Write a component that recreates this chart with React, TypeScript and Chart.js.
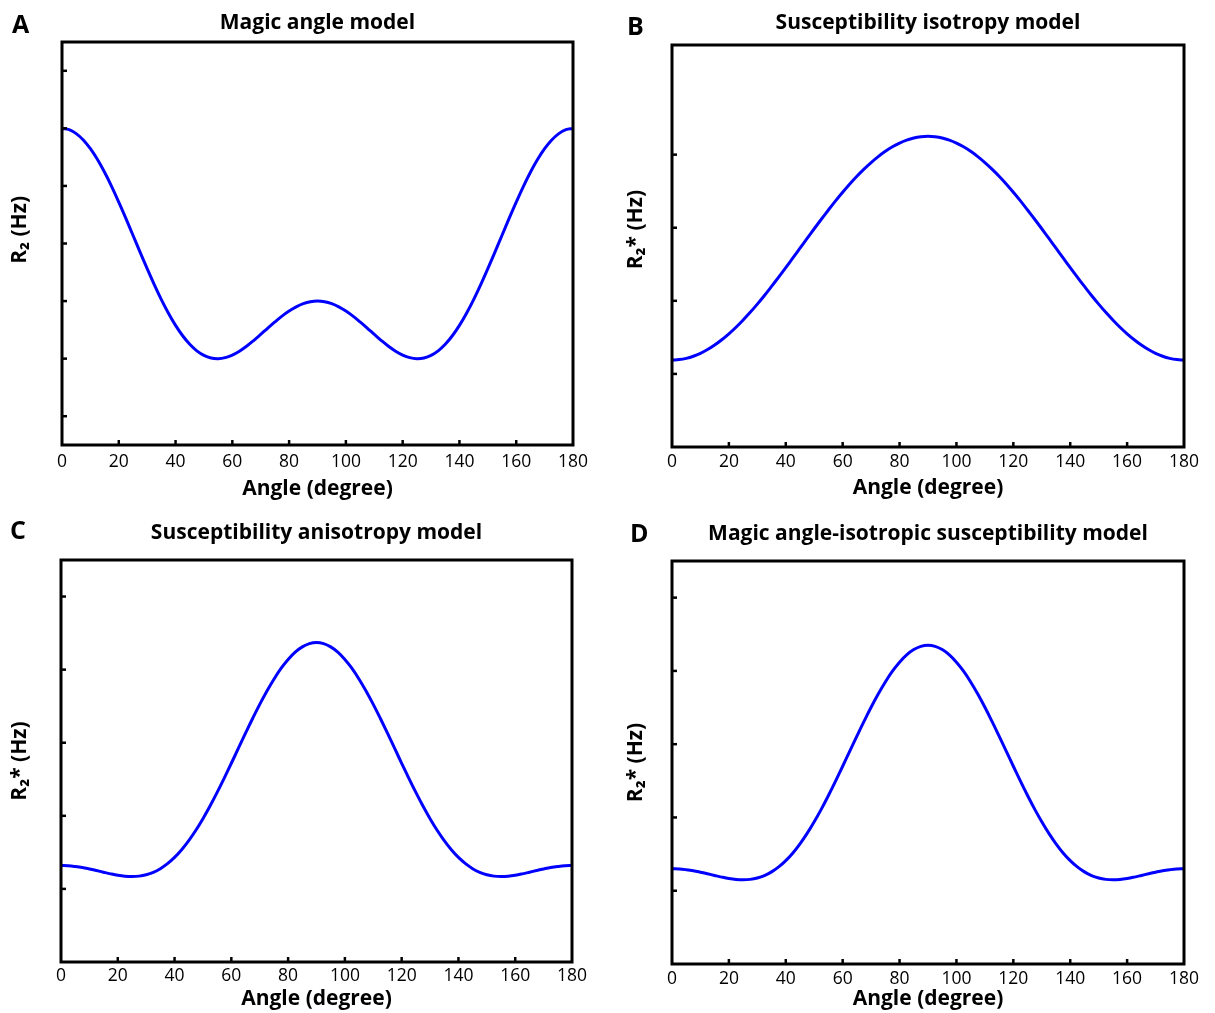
import React, { useEffect, useRef } from "react";
import { Chart, registerables } from "chart.js";

Chart.register(...registerables);

// ---- Data (every 2.5 degrees) ----
const angles = [
  0, 2.5, 5, 7.5, 10, 12.5, 15, 17.5, 20, 22.5, 25, 27.5, 30, 32.5, 35, 37.5, 40, 42.5, 45,
  47.5, 50, 52.5, 55, 57.5, 60, 62.5, 65, 67.5, 70, 72.5, 75, 77.5, 80, 82.5, 85, 87.5, 90,
  92.5, 95, 97.5, 100, 102.5, 105, 107.5, 110, 112.5, 115, 117.5, 120, 122.5, 125, 127.5, 130,
  132.5, 135, 137.5, 140, 142.5, 145, 147.5, 150, 152.5, 155, 157.5, 160, 162.5, 165, 167.5,
  170, 172.5, 175, 177.5, 180,
];

const magicAngleR2 = [
  5.0, 4.977, 4.909, 4.798, 4.646, 4.458, 4.237, 3.989, 3.719, 3.436, 3.144, 2.851, 2.563, 2.286, 2.026, 1.789,
  1.578, 1.398, 1.25, 1.136, 1.057, 1.012, 1.0, 1.018, 1.063, 1.13, 1.215, 1.314, 1.421, 1.531, 1.638, 1.739,
  1.827, 1.9, 1.955, 1.989, 2.0,
  1.989, 1.955, 1.9, 1.827, 1.739, 1.638, 1.531, 1.421, 1.314, 1.215, 1.13, 1.063, 1.018, 1.0, 1.012, 1.057,
  1.136, 1.25, 1.398, 1.578, 1.789, 2.026, 2.286, 2.563, 2.851, 3.144, 3.436, 3.719, 3.989, 4.237, 4.458, 4.646,
  4.798, 4.909, 4.977, 5.0,
];

const isotropyR2s = [
  1.19, 1.196, 1.213, 1.242, 1.282, 1.333, 1.395, 1.467, 1.548, 1.638, 1.737, 1.842, 1.955, 2.073, 2.197, 2.324,
  2.454, 2.587, 2.72, 2.853, 2.986, 3.116, 3.243, 3.367, 3.485, 3.598, 3.704, 3.802, 3.892, 3.973, 4.045, 4.107,
  4.158, 4.198, 4.227, 4.244, 4.25,
  4.244, 4.227, 4.198, 4.158, 4.107, 4.045, 3.973, 3.892, 3.802, 3.704, 3.598, 3.485, 3.367, 3.243, 3.116, 2.986,
  2.853, 2.72, 2.587, 2.454, 2.324, 2.197, 2.073, 1.955, 1.842, 1.737, 1.638, 1.548, 1.467, 1.395, 1.333, 1.282,
  1.242, 1.213, 1.196, 1.19,
];

const anisotropyR2s = [
  1.32, 1.317, 1.307, 1.293, 1.273, 1.251, 1.228, 1.206, 1.187, 1.174, 1.169, 1.175, 1.194, 1.227, 1.277, 1.345,
  1.431, 1.536, 1.66, 1.802, 1.961, 2.134, 2.32, 2.516, 2.719, 2.925, 3.13, 3.331, 3.524, 3.704, 3.869, 4.016,
  4.139, 4.239, 4.311, 4.355, 4.37,
  4.355, 4.311, 4.239, 4.139, 4.016, 3.869, 3.704, 3.524, 3.331, 3.13, 2.925, 2.719, 2.516, 2.32, 2.134, 1.961,
  1.802, 1.66, 1.536, 1.431, 1.345, 1.277, 1.227, 1.194, 1.175, 1.169, 1.174, 1.187, 1.206, 1.228, 1.251, 1.273,
  1.293, 1.307, 1.317, 1.32,
];

const magicIsoR2s = [
  1.3, 1.297, 1.287, 1.273, 1.253, 1.231, 1.208, 1.186, 1.167, 1.154, 1.149, 1.155, 1.174, 1.207, 1.257, 1.325,
  1.411, 1.516, 1.64, 1.782, 1.941, 2.114, 2.3, 2.496, 2.699, 2.905, 3.11, 3.311, 3.504, 3.684, 3.849, 3.996,
  4.119, 4.219, 4.291, 4.335, 4.35,
  4.335, 4.291, 4.219, 4.119, 3.996, 3.849, 3.684, 3.504, 3.311, 3.11, 2.905, 2.699, 2.496, 2.3, 2.114, 1.941,
  1.782, 1.64, 1.516, 1.411, 1.325, 1.257, 1.207, 1.174, 1.155, 1.149, 1.154, 1.167, 1.186, 1.208, 1.231, 1.253,
  1.273, 1.287, 1.297, 1.3,
];

const xTickValues = [0, 20, 40, 60, 80, 100, 120, 140, 160, 180];
const yTicksA = [0, 1, 2, 3, 4, 5, 6];
const yTicksB = [1, 2, 3, 4];
const yTicksC = [1, 2, 3, 4, 5];
const yTicksD = [1, 2, 3, 4, 5];

const panelLetters = ["A", "B", "C", "D"];
const panelTitles = [
  "Magic angle model",
  "Susceptibility isotropy model",
  "Susceptibility anisotropy model",
  "Magic angle-isotropic susceptibility model",
];
const xAxisTitle = "Angle (degree)";
const yAxisTitles = ["     R\u2082 (Hz)", "      R\u2082* (Hz)", "R\u2082* (Hz)", "R\u2082* (Hz)"];

// ---- Layout / style (not data) ----
const FONT = "'Open Sans', 'Noto Sans', sans-serif";
Chart.defaults.font.family = FONT;
Chart.defaults.color = "#000";

const TITLE_SIZE = 21;
const TICK_SIZE = 17.5;

const panels = [
  {
    values: magicAngleR2, yTicks: yTicksA, yMin: -0.5, yMax: 6.5,
    cx: 0, cy: 0, cw: 605, ch: 505, yW: 62, padRight: 32, padBottom: 0,
    titlePadTop: 10.9, titlePadBottom: 5.9, xH: 60, xTickPad: 7, xTitlePadBottom: 2.9, yTitlePadTop: 7.4,
    letter: { left: 12, top: 11 },
  },
  {
    values: isotropyR2s, yTicks: yTicksB, yMin: 0, yMax: 5.5,
    cx: 610, cy: 0, cw: 605, ch: 505, yW: 62, padRight: 31, padBottom: 0,
    titlePadTop: 10.9, titlePadBottom: 8.9, xH: 58, xTickPad: 5, xTitlePadBottom: 3.9, yTitlePadTop: 13.4,
    letter: { left: 627, top: 13 },
  },
  {
    values: anisotropyR2s, yTicks: yTicksC, yMin: 0, yMax: 5.5,
    cx: 0, cy: 508, cw: 605, ch: 505, yW: 61, padRight: 33, padBottom: 0,
    titlePadTop: 12.9, titlePadBottom: 13.9, xH: 51, xTickPad: 4, xTitlePadBottom: 0.9, yTitlePadTop: 7.4,
    letter: { left: 10, top: 517 },
  },
  {
    values: magicIsoR2s, yTicks: yTicksD, yMin: 0, yMax: 5.5,
    cx: 610, cy: 508, cw: 605, ch: 505, yW: 62, padRight: 31, padBottom: 0,
    titlePadTop: 13.9, titlePadBottom: 13.9, xH: 49, xTickPad: 5, xTitlePadBottom: 0.9, yTitlePadTop: 13.4,
    letter: { left: 630, top: 520 },
  },
];

const framePlugin = {
  id: "frameAndInwardTicks",
  afterDraw(chart: any) {
    const { ctx, chartArea, scales } = chart;
    const { left, top, right, bottom } = chartArea;
    const x = scales.x;
    const y = scales.y;
    ctx.save();
    ctx.strokeStyle = "#000";
    ctx.lineWidth = 2.5;
    ctx.lineCap = "butt";
    x.ticks.forEach((t: any) => {
      if (t.value <= x.min || t.value >= x.max) return;
      const px = x.getPixelForValue(t.value);
      ctx.beginPath();
      ctx.moveTo(px, bottom);
      ctx.lineTo(px, bottom - 5);
      ctx.stroke();
    });
    y.ticks.forEach((t: any) => {
      if (t.value <= y.min || t.value >= y.max) return;
      const py = y.getPixelForValue(t.value);
      ctx.beginPath();
      ctx.moveTo(left, py);
      ctx.lineTo(left + 5, py);
      ctx.stroke();
    });
    ctx.lineWidth = 3;
    ctx.strokeRect(left, top, right - left, bottom - top);
    ctx.restore();
  },
};

function Panel({ idx }: { idx: number }) {
  const ref = useRef<HTMLCanvasElement>(null);
  const p = panels[idx];
  useEffect(() => {
    if (!ref.current) return;
    const chart = new Chart(ref.current, {
      type: "line",
      data: {
        datasets: [
          {
            data: angles.map((a, i) => ({ x: a, y: p.values[i] })),
            borderColor: "#0000ff",
            borderWidth: 3,
            pointRadius: 0,
            tension: 0.4,
            fill: false,
          },
        ],
      },
      options: {
        responsive: false,
        animation: false,
        devicePixelRatio: 1,
        events: [],
        layout: { padding: { left: 0, top: 0, right: p.padRight, bottom: p.padBottom } },
        plugins: {
          legend: { display: false },
          tooltip: { enabled: false },
          title: {
            display: true,
            text: panelTitles[idx],
            fullSize: false,
            color: "#000",
            font: { size: TITLE_SIZE, weight: "bold", lineHeight: 1.2 },
            padding: { top: p.titlePadTop, bottom: p.titlePadBottom },
          },
        },
        scales: {
          x: {
            type: "linear",
            min: 0,
            max: 180,
            afterBuildTicks: (s: any) => {
              s.ticks = xTickValues.map((v) => ({ value: v }));
            },
            ticks: { autoSkip: false, maxRotation: 0, padding: p.xTickPad, color: "#000", font: { size: TICK_SIZE, lineHeight: 1.2 } },
            grid: { display: false, drawTicks: false },
            border: { display: false },
            title: {
              display: true,
              text: xAxisTitle,
              color: "#000",
              font: { size: TITLE_SIZE, weight: "bold", lineHeight: 1.2 },
              padding: { top: 0, bottom: p.xTitlePadBottom },
            },
            afterFit: (s: any) => {
              s.height = p.xH;
            },
          },
          y: {
            type: "linear",
            min: p.yMin,
            max: p.yMax,
            afterBuildTicks: (s: any) => {
              s.ticks = p.yTicks.map((v) => ({ value: v }));
            },
            ticks: { display: false },
            grid: { display: false, drawTicks: false },
            border: { display: false },
            title: {
              display: true,
              text: yAxisTitles[idx],
              color: "#000",
              font: { size: TITLE_SIZE, weight: "bold", lineHeight: 1.2 },
              padding: { top: p.yTitlePadTop, bottom: 0 },
            },
            afterFit: (s: any) => {
              s.width = p.yW;
            },
          },
        },
      } as any,
      plugins: [framePlugin],
    });
    return () => chart.destroy();
  }, []);
  return (
    <>
      <canvas
        ref={ref}
        width={p.cw}
        height={p.ch}
        style={{ position: "absolute", left: p.cx, top: p.cy, width: p.cw, height: p.ch, display: "block" }}
      />
      <div
        style={{
          position: "absolute",
          left: p.letter.left,
          top: p.letter.top,
          fontFamily: FONT,
          fontWeight: 700,
          fontSize: 25,
          lineHeight: 1,
          color: "#000",
        }}
      >
        {panelLetters[idx]}
      </div>
    </>
  );
}

export default function App() {
  return (
    <div
      style={{
        position: "absolute",
        left: 0,
        top: 0,
        width: 1215,
        height: 1013,
        overflow: "hidden",
        background: "#fff",
      }}
    >
      {panels.map((_, i) => (
        <Panel key={i} idx={i} />
      ))}
    </div>
  );
}
